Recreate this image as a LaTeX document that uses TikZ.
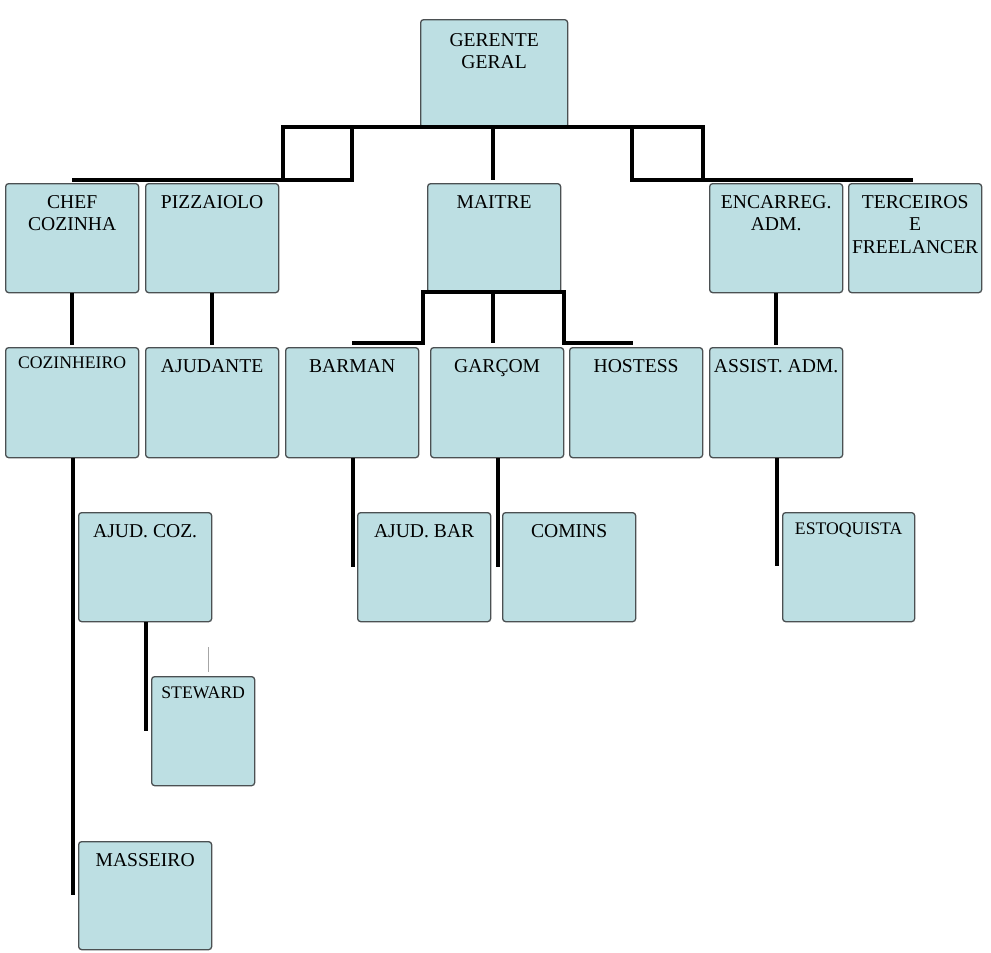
\documentclass[tikz,border=0pt]{standalone}
\usepackage{fontspec}
\setmainfont{Liberation Serif}
\definecolor{boxfill}{RGB}{189,223,227}
\definecolor{boxline}{RGB}{75,80,82}
\newcommand\bigf{\fontsize{19.6}{22.5}\selectfont}
\newcommand\smallf{\fontsize{17.7}{21}\selectfont}
\tikzset{
  obox/.style={draw=boxline, fill=boxfill, line width=1.3pt, rounded corners=3pt, inner sep=0pt},
  otext/.style={inner sep=0pt, align=center, text=black, font=\bigf},
  conn/.style={line width=4.5pt, black, line join=miter},
  thinconn/.style={line width=0.8pt, gray!70}
}
\newcommand\obox[7]{%
  \pgfmathsetmacro\ow{#4-#2}\pgfmathsetmacro\oh{#5-#3}%
  \node[obox, minimum width=\ow pt, minimum height=\oh pt, anchor=north west] (#1) at (#2,#3) {};%
  \node[otext, anchor=north] (#1t) at ([yshift=-#6pt]#1.north) {#7};}
\begin{document}
\begin{tikzpicture}[x=1pt,y=-1pt]
\useasboundingbox (0,0) rectangle (991,953);
% boxes
\obox{gg}{420}{19}{567}{127}{14}{GERENTE\\GERAL}
\obox{chef}{5}{183}{138}{292}{12}{CHEF\\COZINHA}
\obox{pz}{145}{183}{278}{292}{12}{PIZZAIOLO}
\obox{mt}{427}{183}{560}{292}{12}{MAITRE}
\obox{enc}{709}{183}{842}{292}{12}{ENCARREG.\\ADM.}
\obox{ter}{848}{183}{981}{292}{12}{TERCEIROS\\E\\FREELANCER}
\obox{coz}{5}{347}{138}{457}{10}{\smallf COZINHEIRO}
\obox{aj}{145}{347}{278}{457}{12}{AJUDANTE}
\obox{bar}{285}{347}{418}{457}{12}{BARMAN}
\obox{gar}{430}{347}{563}{457}{12}{GARÇOM}
\obox{hos}{569}{347}{702}{457}{12}{HOSTESS}
\obox{as}{709}{347}{842}{457}{12}{ASSIST. ADM.}
\obox{ajc}{78}{512}{211}{621}{12}{AJUD. COZ.}
\obox{ajb}{357}{512}{490}{621}{12}{AJUD. BAR}
\obox{com}{502}{512}{635}{621}{12}{COMINS}
\obox{est}{782}{512}{914}{621}{11}{\smallf ESTOQUISTA}
\obox{stew}{151}{676}{254}{785}{11}{\smallf STEWARD}
\obox{mas}{78}{841}{211}{949}{12}{MASSEIRO}
% junction coordinates
\coordinate (tl) at (283,127);
\coordinate (tl2) at (352,180);
\coordinate (tr) at (632,127);
\coordinate (tr2) at (703,180);
\coordinate (lend) at (72,180);
\coordinate (rend) at (913,180);
\coordinate (mid) at (493,180);
\coordinate (ml) at (423,292);
\coordinate (mr) at (564,292);
\coordinate (mlend) at (352,343);
\coordinate (mrend) at (633,343);
\coordinate (mm) at (493,343);
\coordinate (cz) at (73,895);
\coordinate (ac) at (146,731);
\coordinate (gb) at (353,567);
\coordinate (gc) at (498,567);
\coordinate (ge) at (777,566);
\coordinate (th1) at (208,647);
\coordinate (th2) at (208,672);
% top connectors
\draw[conn] (tl) -- (tr);
\draw[conn] (tl) rectangle (tl2);
\draw[conn] (tr) rectangle (tr2);
\draw[conn] (lend) -- (lend -| tl);
\draw[conn] (tr2) -- (rend);
\draw[conn] (mid |- tl) -- (mid);
% maitre connectors
\draw[conn] (mlend) -- (mlend -| ml) -- (ml) -- (mr) -- (mr |- mrend) -- (mrend);
\draw[conn] (mm |- ml) -- (mm);
% vertical connectors
\draw[conn] (chef.south) -- ([yshift=2pt]coz.north);
\draw[conn] (pz.south) -- ([yshift=2pt]aj.north);
\draw[conn] (enc.south) -- ([yshift=2pt]as.north);
\draw[conn] (coz.south -| cz) -- (cz);
\draw[conn] (ajc.south -| ac) -- (ac);
\draw[conn] (bar.south -| gb) -- (gb);
\draw[conn] (gar.south -| gc) -- (gc);
\draw[conn] (as.south -| ge) -- (ge);
\draw[thinconn] (th1) -- (th2);
\end{tikzpicture}
\end{document}
